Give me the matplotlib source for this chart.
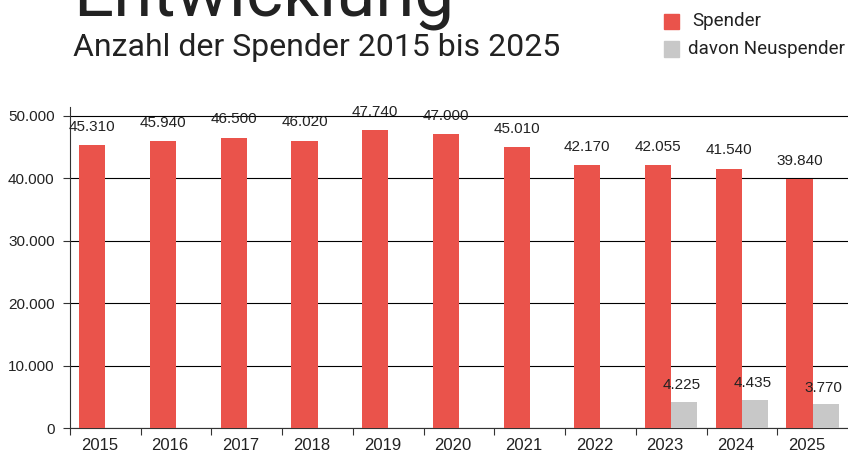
import numpy as np
import matplotlib.pyplot as plt
from matplotlib.patches import Rectangle

years = ["2015", "2016", "2017", "2018", "2019", "2020", "2021", "2022", "2023", "2024", "2025"]
spender = [45310, 45940, 46500, 46020, 47740, 47000, 45010, 42170, 42055, 41540, 39840]
neu_years = ["2023", "2024", "2025"]
neuspender = [4225, 4435, 3770]

RED = "#EA534B"
GREY = "#C8C8C8"
TXT = "#222222"


def fmt(v):
    return f"{v:,}".replace(",", ".")


fig = plt.figure(figsize=(8.48, 4.55), dpi=100)
ax = fig.add_axes([70 / 848, 1 - 428 / 455, 1 - 70 / 848, (428 - 107) / 455])

x = np.arange(len(years))
w = 0.37
ax.bar(x - w / 2, spender, width=w, color=RED, zorder=3)
nx = np.array([years.index(y) for y in neu_years])
ax.bar(nx + w / 2, neuspender, width=w, color=GREY, zorder=3)

for xi, v in zip(x, spender):
    ax.text(xi - w / 2, v + 2900, fmt(v), ha="center", va="center",
            fontsize=11, color=TXT, family="Liberation Sans")
for xi, v in zip(nx, neuspender):
    ax.text(xi + w / 2 - 0.03, v + 2700, fmt(v), ha="center", va="center",
            fontsize=11, color=TXT, family="Liberation Sans")

ax.set_xlim(-0.5, len(years) - 0.5)
ax.set_ylim(0, 51400)
ax.set_yticks(range(0, 50001, 10000))
ax.set_yticklabels([fmt(v) for v in range(0, 50001, 10000)],
                   fontsize=11, color=TXT, family="Liberation Sans")
ax.yaxis.grid(True, color="black", linewidth=0.8, zorder=0)
ax.set_axisbelow(True)

# category boundaries as major ticks, year labels as minor ticks (slightly left of centre)
ax.set_xticks(np.arange(-0.5, len(years) - 0.5, 1.0))
ax.set_xticklabels([])
ax.set_xticks(x - 0.085, minor=True)
ax.set_xticklabels(years, minor=True, fontsize=12, color=TXT, family="Liberation Sans")
ax.tick_params(axis="x", which="minor", length=0, pad=7)
ax.tick_params(axis="x", which="major", length=5, color="#333333")
ax.tick_params(axis="y", length=5, color="#333333", pad=6)

for s in ["top", "right"]:
    ax.spines[s].set_visible(False)
for s in ["left", "bottom"]:
    ax.spines[s].set_color("#333333")

# header
fig.text(73 / 848, 1 - 16 / 455, "Entwicklung", fontsize=51, color=TXT,
         family="Roboto", ha="left", va="baseline")
fig.text(73 / 848, 1 - 56 / 455, "Anzahl der Spender 2015 bis 2025", fontsize=23,
         color=TXT, family="Roboto", ha="left", va="baseline")

# legend
fig.patches.append(Rectangle((664 / 848, 1 - 29 / 455), 15 / 848, 15 / 455,
                             transform=fig.transFigure, color=RED))
fig.patches.append(Rectangle((664 / 848, 1 - 57 / 455), 15 / 848, 16 / 455,
                             transform=fig.transFigure, color=GREY))
fig.text(692 / 848, 1 - 21 / 455, "Spender", fontsize=13.5, color=TXT,
         family="Roboto", va="center")
fig.text(688 / 848, 1 - 49 / 455, "davon Neuspender", fontsize=13.5, color=TXT,
         family="Roboto", va="center")

fig.savefig("out.png", dpi=100)
